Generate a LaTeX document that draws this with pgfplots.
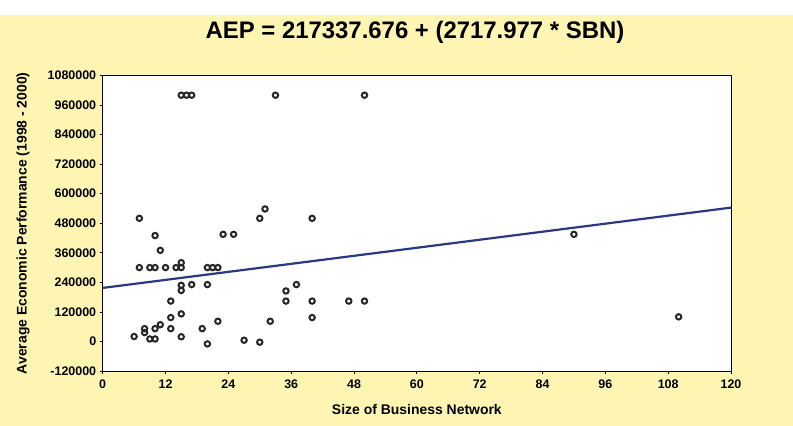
\documentclass[border=0pt]{standalone}
\usepackage{pgfplots}
\pgfplotsset{compat=1.18}
\usepackage{fontspec}
\setmainfont{Liberation Sans}
\definecolor{bgyellow}{RGB}{254,245,178}
\definecolor{fitblue}{RGB}{42,56,128}
\begin{document}
\begin{tikzpicture}
\fill[white] (0,0) rectangle (793bp,426bp);
\fill[bgyellow] (0,0) rectangle (793bp,411bp);
\begin{axis}[
  at={(102.7bp,55bp)}, anchor=south west,
  scale only axis, width=628.3bp, height=295.5bp,
  xmin=0, xmax=120, ymin=-120000, ymax=1080000,
  xtick={0,12,...,120},
  ytick={-120000,0,120000,240000,360000,480000,600000,720000,840000,960000,1080000},
  scaled y ticks=false, scaled x ticks=false,
  /pgf/number format/.cd, fixed, precision=0, 1000 sep={}, assume math mode=true,
  /pgfplots/.cd,
  tick pos=left, tick align=outside, major tick length=3bp,
  tick style={black, line width=0.8pt},
  axis line style={black, line width=1pt},
  axis background/.style={fill=white},
  ticklabel style={font=\fontsize{12.5}{14}\selectfont\bfseries},
  xticklabel style={yshift=-2bp},
  title={AEP = 217337.676 + (2717.977 * SBN)},
  title style={font=\fontsize{24}{28}\selectfont\bfseries, at={(axis description cs:0.497,1.127)}, anchor=center},
  xlabel={Size of Business Network},
  ylabel={Average Economic Performance (1998 - 2000)},
  label style={font=\fontsize{14}{16}\selectfont\bfseries},
  xlabel style={at={(axis description cs:0.5,-0.132)}, anchor=center},
  ylabel style={at={(axis description cs:-0.1268,0.5)}, anchor=center},
  clip=false,
]
\addplot[fitblue, line width=2.2pt] coordinates {(0,217337.676) (120,543494.916)};
\addplot[only marks, mark=o, mark size=2.7bp, mark options={draw=black!85, line width=2pt}] coordinates {
(6,20000) (7,500000) (7,300000) (8,52000) (8,36000) (9,10000) (10,10000)
(9,300000) (10,300000) (10,430000) (10,52000) (11,370000) (11,68000)
(12,300000) (13,52000) (13,97000) (13,164000) (14,300000) (15,300000)
(15,320000) (15,228000) (15,207000) (15,112000) (15,19000)
(15,1000000) (16,1000000) (17,1000000) (17,231000) (19,52000)
(20,-10000) (20,231000) (20,300000) (21,300000) (22,300000) (22,82000)
(23,435000) (25,435000) (27,5000) (30,-3000) (30,500000) (31,538000)
(32,82000) (33,1000000) (35,205000) (35,164000) (37,231000)
(40,500000) (40,164000) (40,97000) (47,164000) (50,164000) (50,1000000)
(90,435000) (110,100000)
};
\end{axis}
\end{tikzpicture}
\end{document}
